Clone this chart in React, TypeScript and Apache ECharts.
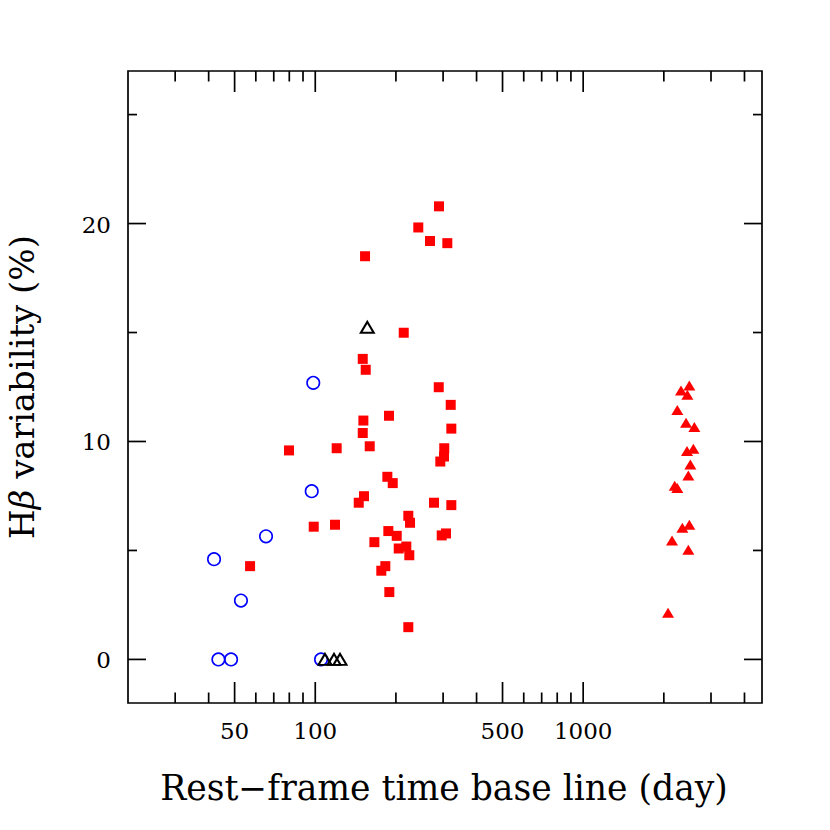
import React, { useEffect, useRef } from "react";
import * as echarts from "echarts";

// Blue open circles: [time base line (day), Hβ variability (%)]
const blueCircles: [number, number][] = [
  [41.9, 4.6], [43.5, 0], [48.5, 0], [52.8, 2.7], [65.5, 5.65],
  [97.0, 7.72], [98.3, 12.69], [105.1, 0],
];

// Red filled squares
const redSquares: [number, number][] = [
  [57.1, 4.28], [79.8, 9.59], [98.7, 6.09], [118.5, 6.18], [120.2, 9.69],
  [145.3, 7.19], [152.0, 7.49], [150.4, 10.39], [151.2, 10.96], [150.4, 13.79],
  [154.3, 13.29], [153.4, 18.5], [159.7, 9.78], [166.2, 5.38], [176.4, 4.07],
  [182.6, 4.28], [185.8, 8.38], [188.5, 11.18], [189.0, 3.09], [187.4, 5.89],
  [194.6, 8.09], [201.4, 5.67], [204.9, 5.09], [213.9, 14.99], [218.7, 5.18],
  [222.5, 6.59], [224.4, 4.78], [225.8, 6.27], [222.5, 1.48], [242.4, 19.82],
  [268.1, 19.2], [277.5, 7.19], [289.7, 20.79], [289.0, 12.49], [292.9, 9.08],
  [302.4, 9.31], [303.0, 9.69], [296.5, 5.69], [307.6, 5.78], [311.1, 19.1],
  [320.3, 11.68], [322.0, 10.59], [322.0, 7.08],
];

// Black open triangles
const blackTriangles: [number, number][] = [
  [108.7, 0], [117.5, 0], [123.7, 0], [156.4, 15.24],
];

// Red filled triangles
const redTriangles: [number, number][] = [
  [2490, 12.57], [2318, 12.34], [2448, 12.14], [2246, 11.45], [2421, 10.86],
  [2600, 10.66], [2578, 9.67], [2441, 9.56], [2512, 8.94], [2469, 8.44],
  [2196, 7.97], [2246, 7.86], [2490, 6.18], [2345, 6.04], [2146, 5.46],
  [2469, 5.03], [2074, 2.14],
];

const xMajorTicks = [50, 100, 500, 1000];
const xMinorTicks = [30, 40, 60, 70, 80, 90, 200, 300, 400, 600, 700, 800, 900, 2000, 3000, 4000];
const xTickLabels = ["50", "100", "500", "1000"];
const yMajorTicks = [0, 10, 20];
const yMinorTicks = [5, 15, 25];
const yTickLabels = ["0", "10", "20"];

const xTitle = "Rest\u2212frame time base line (day)";
const yTitle = "H{b|\u03b2} variability (%)";

const X_MIN = 20;
const X_MAX = 4650;
const Y_MIN = -2;
const Y_MAX = 27;

const FONT = "'DejaVu Serif', 'Liberation Serif', serif";

export default function App() {
  const ref = useRef<HTMLDivElement>(null);

  useEffect(() => {
    if (!ref.current) return;
    const chart = echarts.init(ref.current, undefined, { renderer: "svg" });

    const renderAxes = (params: any, api: any) => {
      const cs = params.coordSys;
      const left = cs.x;
      const top = cs.y;
      const right = cs.x + cs.width;
      const bottom = cs.y + cs.height;
      const style = { stroke: "#000", lineWidth: 1.7 };
      const children: any[] = [];
      const addX = (v: number, len: number) => {
        const x = api.coord([v, 1])[0];
        children.push({ type: "line", shape: { x1: x, y1: bottom, x2: x, y2: bottom - len }, style });
        children.push({ type: "line", shape: { x1: x, y1: top, x2: x, y2: top + len }, style });
      };
      const addY = (v: number, len: number) => {
        const y = api.coord([100, v])[1];
        children.push({ type: "line", shape: { x1: left, y1: y, x2: left + len, y2: y }, style });
        children.push({ type: "line", shape: { x1: right, y1: y, x2: right - len, y2: y }, style });
      };
      xMajorTicks.forEach((v) => addX(v, 21));
      xMinorTicks.forEach((v) => addX(v, 10.5));
      yMajorTicks.forEach((v) => addY(v, 18));
      yMinorTicks.forEach((v) => addY(v, 9));
      xMajorTicks.forEach((v, i) => {
        const x = api.coord([v, 1])[0];
        children.push({
          type: "text",
          style: {
            text: xTickLabels[i], x, y: bottom + 28, align: "center", verticalAlign: "middle",
            fontSize: 23, fontFamily: FONT, fill: "#000",
          },
        });
      });
      yMajorTicks.forEach((v, i) => {
        const y = api.coord([100, v])[1];
        children.push({
          type: "text",
          style: {
            text: yTickLabels[i], x: left - 17, y: y + 1, align: "right", verticalAlign: "middle",
            fontSize: 23, fontFamily: FONT, fill: "#000",
          },
        });
      });
      return { type: "group", children };
    };

    const hiddenAxis = {
      axisLine: { show: false },
      axisTick: { show: false },
      axisLabel: { show: false },
      splitLine: { show: false },
    };

    chart.setOption({
      animation: false,
      backgroundColor: "#fff",
      grid: {
        left: 128, top: 71, width: 634, height: 632,
        show: true, borderColor: "#000", borderWidth: 1.7, backgroundColor: "transparent",
      },
      xAxis: { type: "log", logBase: 10, min: X_MIN, max: X_MAX, ...hiddenAxis },
      yAxis: { type: "value", min: Y_MIN, max: Y_MAX, ...hiddenAxis },
      graphic: [
        {
          type: "text", x: 444, y: 788,
          style: {
            text: xTitle, align: "center", verticalAlign: "middle",
            fontSize: 34.6, fontFamily: FONT, fill: "#000",
          },
        },
        {
          type: "text", x: 22, y: 387, rotation: Math.PI / 2,
          style: {
            text: yTitle, align: "center", verticalAlign: "middle",
            fontSize: 34, fontFamily: FONT, fill: "#000",
            rich: { b: { fontStyle: "italic", fontSize: 34, fontFamily: FONT } },
          },
        },
      ],
      series: [
        {
          type: "custom", data: [[100, 0]], renderItem: renderAxes, silent: true, z: 1,
        },
        {
          type: "scatter", data: blueCircles, symbol: "circle", symbolSize: 12.5, silent: true, z: 3,
          itemStyle: { color: "rgba(0,0,0,0)", borderColor: "#0000ff", borderWidth: 1.6, opacity: 1 },
        },
        {
          type: "scatter", data: redSquares, symbol: "rect", symbolSize: 10, silent: true, z: 2,
          itemStyle: { color: "#ff0000", opacity: 1 },
        },
        {
          type: "scatter", data: blackTriangles, symbol: "triangle", symbolSize: [13, 11], silent: true, z: 4,
          itemStyle: { color: "rgba(0,0,0,0)", borderColor: "#000", borderWidth: 2, opacity: 1 },
        },
        {
          type: "scatter", data: redTriangles, symbol: "triangle", symbolSize: [12, 10], silent: true, z: 2,
          itemStyle: { color: "#ff0000", opacity: 1 },
        },
      ],
    });

    return () => chart.dispose();
  }, []);

  return (
    <div
      ref={ref}
      style={{ position: "absolute", left: 0, top: 0, width: 830, height: 830 }}
    />
  );
}
